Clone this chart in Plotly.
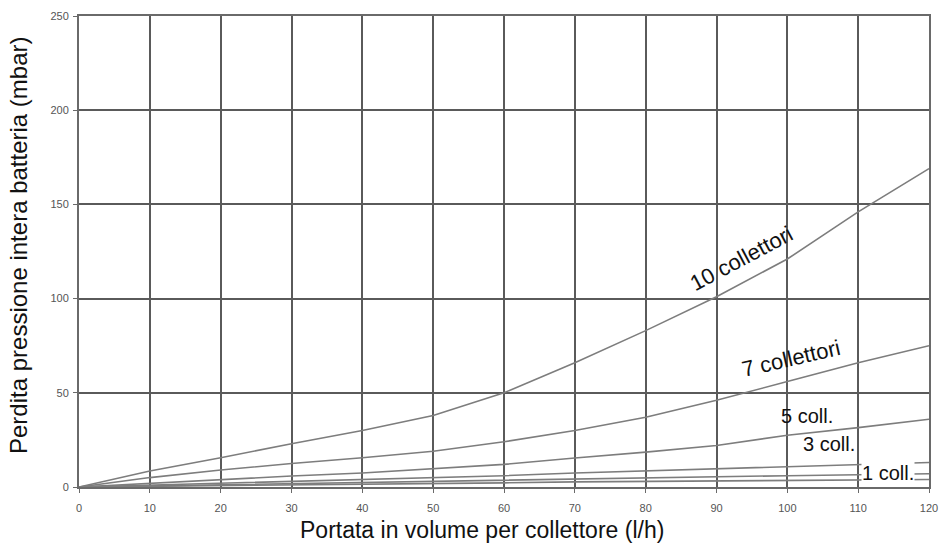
import plotly.graph_objects as go

flow = [0, 10, 20, 30, 40, 50, 60, 70, 80, 90, 100, 110, 120]
coll10 = [0, 8.5, 15.5, 23, 30, 38, 50, 66, 83, 101, 121, 146, 169]
coll7 = [0, 5, 9, 12.5, 15.5, 19, 24, 30, 37, 46, 56, 66, 75]
coll5 = [0, 2, 4, 5.8, 7.4, 9.5, 12, 15.4, 18.5, 22, 27.5, 31.5, 36]
coll3 = [0, 1, 2, 3, 4, 5, 6, 7.4, 8.5, 9.5, 10.8, 12, 13]
coll1 = [0, 0.6, 1.2, 1.8, 2.5, 3.2, 3.8, 4.5, 5.0, 5.5, 6.0, 6.5, 7]
coll_extra = [0, 0.3, 0.7, 1.0, 1.4, 1.8, 2.2, 2.7, 3.0, 3.3, 3.6, 3.8, 4]
x_ticks = [0, 10, 20, 30, 40, 50, 60, 70, 80, 90, 100, 110, 120]
y_ticks = [0, 50, 100, 150, 200, 250]

series = [coll10, coll7, coll5, coll3, coll1, coll_extra]
labels = ["10 collettori", "7 collettori", "5 coll.", "3 coll.", "1 coll."]
label_pos = [(93.5, 121.5, -28, 22), (100.5, 68.0, -13, 22), (102.8, 37.7, 0, 20),
             (105.9, 22.8, 0, 20), (114.2, 7.4, 0, 20)]

FONT = "Liberation Sans, Arial"

fig = go.Figure()
for s in series:
    fig.add_trace(go.Scatter(x=flow, y=s, mode="lines",
                             line=dict(color="#7d7d7d", width=1.6),
                             showlegend=False, hoverinfo="skip"))

for i, t in enumerate(labels):
    x, y, ang, fs = label_pos[i]
    fig.add_annotation(x=x, y=y, text=t, showarrow=False, textangle=ang,
                       font=dict(family=FONT, size=fs, color="#111"),
                       bgcolor="white" if t == "1 coll." else None,
                       borderpad=0)

# axis titles
fig.add_annotation(xref="paper", yref="paper", x=(482 - 79) / 850, y=-(530 - 487) / 471,
                   text="Portata in volume per collettore (l/h)", showarrow=False,
                   xanchor="center", yanchor="middle",
                   font=dict(family=FONT, size=23, color="#111"))
fig.add_annotation(xref="paper", yref="paper", x=-(79 - 18) / 850, y=(487 - 245) / 471,
                   text="Perdita pressione intera batteria (mbar)", showarrow=False,
                   textangle=-90, xanchor="center", yanchor="middle",
                   font=dict(family=FONT, size=24, color="#111"))

axis_common = dict(showgrid=True, gridcolor="#5a5a5a", gridwidth=1.6,
                   showline=True, linecolor="#6a6a6a", linewidth=2, mirror=True,
                   ticks="outside", ticklen=4, tickcolor="#6a6a6a",
                   tickfont=dict(family=FONT, size=11, color="#555"),
                   zeroline=False, automargin=False)

fig.update_xaxes(range=[0, 120], tickvals=x_ticks, ticklabelstandoff=6, **axis_common)
fig.update_yaxes(range=[0, 250], tickvals=y_ticks, ticklabelstandoff=2, **axis_common)

fig.update_layout(width=942, height=544, plot_bgcolor="white", paper_bgcolor="white",
                  margin=dict(l=79, r=13, t=16, b=57))

fig.write_html("out.html", config={"displayModeBar": False},
               post_script="document.body.style.margin='0px';")
